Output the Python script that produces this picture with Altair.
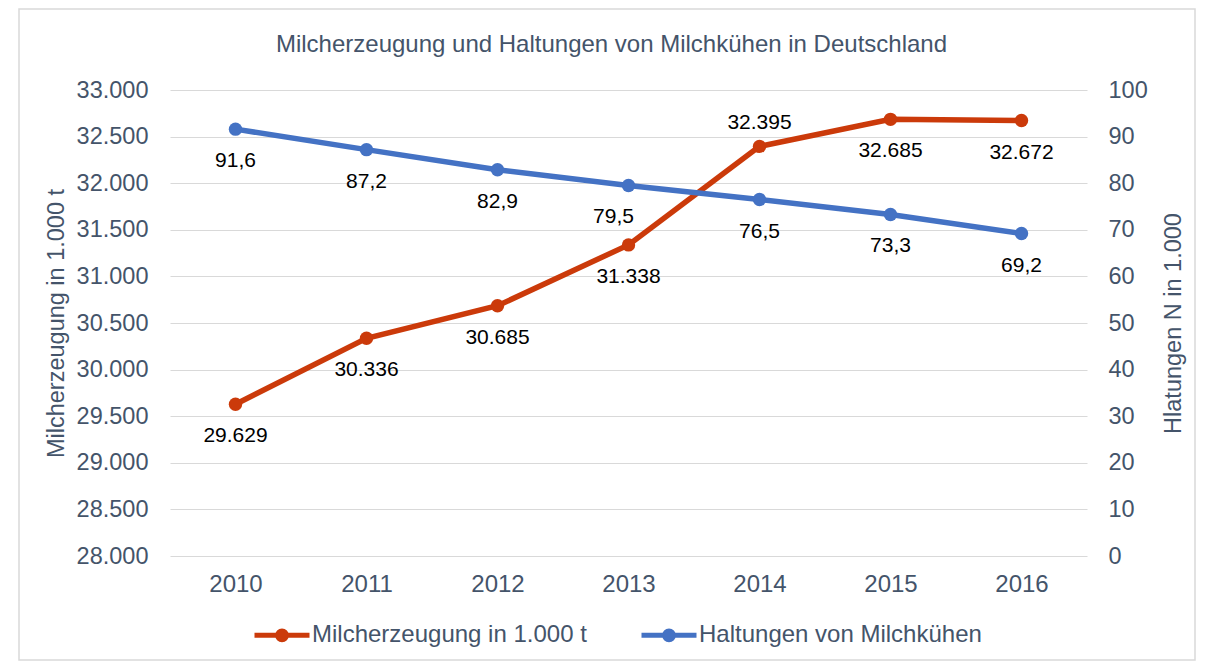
import json
import altair as alt
import pandas as pd

# ---- data ----
years = ["2010", "2011", "2012", "2013", "2014", "2015", "2016"]
milk = [29629, 30336, 30685, 31338, 32395, 32685, 32672]          # Milcherzeugung in 1.000 t
cows = [91.6, 87.2, 82.9, 79.5, 76.5, 73.3, 69.2]                 # Haltungen (in 1.000)
series_names = ["Milcherzeugung in 1.000 t", "Haltungen von Milchkühen"]
series_colors = ["#CB3A0A", "#4472C4"]
milk_ticks = [28000, 28500, 29000, 29500, 30000, 30500, 31000, 31500, 32000, 32500, 33000]
cows_ticks = [0, 10, 20, 30, 40, 50, 60, 70, 80, 90, 100]
milk_label_above = ["2014"]
cows_label_left = ["2013"]

milk_labels = [f"{v:,}".replace(",", ".") for v in milk]
cows_labels = [f"{v:.1f}".replace(".", ",") for v in cows]

df_milk = pd.DataFrame({"year": years, "milk": milk, "lab": milk_labels,
                        "series": series_names[0]})
df_cows = pd.DataFrame({"year": years, "cows": cows, "lab": cows_labels,
                        "series": series_names[1]})
df_frame = pd.DataFrame({"k": [0]})

TEXT = "#44546A"
FONT = "Liberation Sans"
GRID = "#D9D9D9"
W, H = 917, 466

# legend glyph: a horizontal line with a dot in the middle (drawn as strokes)
LEGEND_PATH = ("M-1,0L1,0 "
               "M-0.16,0A0.16,0.16 0 1,0 0.16,0A0.16,0.16 0 1,0 -0.16,0Z "
               "M-0.07,0A0.07,0.07 0 1,0 0.07,0A0.07,0.07 0 1,0 -0.07,0Z")


def in_list(lst):
    return f"indexof({json.dumps(lst)}, datum.year) >= 0"


def not_in_list(lst):
    return f"indexof({json.dumps(lst)}, datum.year) < 0"


x_enc = alt.X("year:O", scale=alt.Scale(type="point", padding=0.5),
              axis=alt.Axis(title=None, labelAngle=0, ticks=False, domain=False,
                            labelPadding=16, labelFontSize=24, labelColor=TEXT,
                            labelFont=FONT, grid=False))

color_scale = alt.Scale(domain=series_names, range=series_colors)

legend = alt.Legend(title=None, orient="none", legendX=82, legendY=515,
                    direction="horizontal", symbolType=LEGEND_PATH,
                    symbolSize=3025, symbolStrokeWidth=5,
                    labelFontSize=24, labelColor=TEXT, labelFont=FONT,
                    labelOffset=0, columnPadding=44, labelLimit=600)

y_milk = alt.Y("milk:Q",
               scale=alt.Scale(domain=[28000, 33000], zero=False, nice=False),
               axis=alt.Axis(values=milk_ticks,
                             labelExpr="replace(format(datum.value, ',.0f'), ',', '.')",
                             title="Milcherzeugung in 1.000 t",
                             orient="left", grid=True, gridColor=GRID, gridWidth=1,
                             ticks=False, domain=False, labelPadding=22,
                             labelFontSize=23.5, labelColor=TEXT, labelFont=FONT,
                             titleFontSize=23.5, titleColor=TEXT, titleFont=FONT,
                             titleFontWeight="normal", titleAngle=270,
                             titleX=-107, titleY=H / 2, titleAlign="center",
                             titleBaseline="alphabetic"))

y_cows = alt.Y("cows:Q",
               scale=alt.Scale(domain=[0, 100], nice=False),
               axis=alt.Axis(values=cows_ticks, format="d",
                             title="Hlatungen N in 1.000",
                             orient="right", grid=False,
                             ticks=False, domain=False, labelPadding=21,
                             labelFontSize=23.5, labelColor=TEXT, labelFont=FONT,
                             titleFontSize=23.5, titleColor=TEXT, titleFont=FONT,
                             titleFontWeight="normal", titleAngle=270,
                             titleX=93, titleY=H / 2, titleAlign="center",
                             titleBaseline="alphabetic"))

frame = alt.Chart(df_frame).mark_rect(fill=None, stroke=GRID, strokeWidth=1.5).encode(
    x=alt.value(-151), x2=alt.value(1025), y=alt.value(-81), y2=alt.value(570))

milk_base = alt.Chart(df_milk).encode(x=x_enc, y=y_milk)
milk_line = milk_base.mark_line(strokeWidth=5.5).encode(
    color=alt.Color("series:N", scale=color_scale, legend=legend))
milk_pts = milk_base.mark_circle(size=180, opacity=1).encode(
    color=alt.Color("series:N", scale=color_scale, legend=None))
milk_txt_below = milk_base.mark_text(fontSize=21, font=FONT, color="black",
                                     baseline="middle", dy=32).encode(
    text="lab:N").transform_filter(not_in_list(milk_label_above))
milk_txt_above = milk_base.mark_text(fontSize=21, font=FONT, color="black",
                                     baseline="middle", dy=-23).encode(
    text="lab:N").transform_filter(in_list(milk_label_above))

cows_base = alt.Chart(df_cows).encode(x=x_enc, y=y_cows)
cows_line = cows_base.mark_line(strokeWidth=5.5).encode(
    color=alt.Color("series:N", scale=color_scale, legend=legend))
cows_pts = cows_base.mark_circle(size=180, opacity=1).encode(
    color=alt.Color("series:N", scale=color_scale, legend=None))
cows_txt_below = cows_base.mark_text(fontSize=21, font=FONT, color="black",
                                     baseline="middle", dy=32).encode(
    text="lab:N").transform_filter(not_in_list(cows_label_left))
cows_txt_left = cows_base.mark_text(fontSize=21, font=FONT, color="black",
                                    baseline="middle", dy=31, dx=-15).encode(
    text="lab:N").transform_filter(in_list(cows_label_left))

milk_layer = alt.layer(frame, milk_line, milk_pts, milk_txt_below, milk_txt_above)
cows_layer = alt.layer(cows_line, cows_pts, cows_txt_below, cows_txt_left)

chart = alt.layer(milk_layer, cows_layer).resolve_scale(y="independent").properties(
    width=W, height=H,
    title=alt.TitleParams(text="Milcherzeugung und Haltungen von Milchkühen in Deutschland",
                          fontSize=24, color=TEXT, font=FONT, fontWeight="normal",
                          anchor="middle", frame="group", baseline="alphabetic",
                          offset=-68, dx=-17),
    autosize=alt.AutoSizeParams(type="none"),
    padding={"left": 162, "top": 82, "right": 110, "bottom": 108},
).configure(background="white").configure_view(stroke=None)

chart.save("out.html", embed_options={"renderer": "svg", "actions": False})
